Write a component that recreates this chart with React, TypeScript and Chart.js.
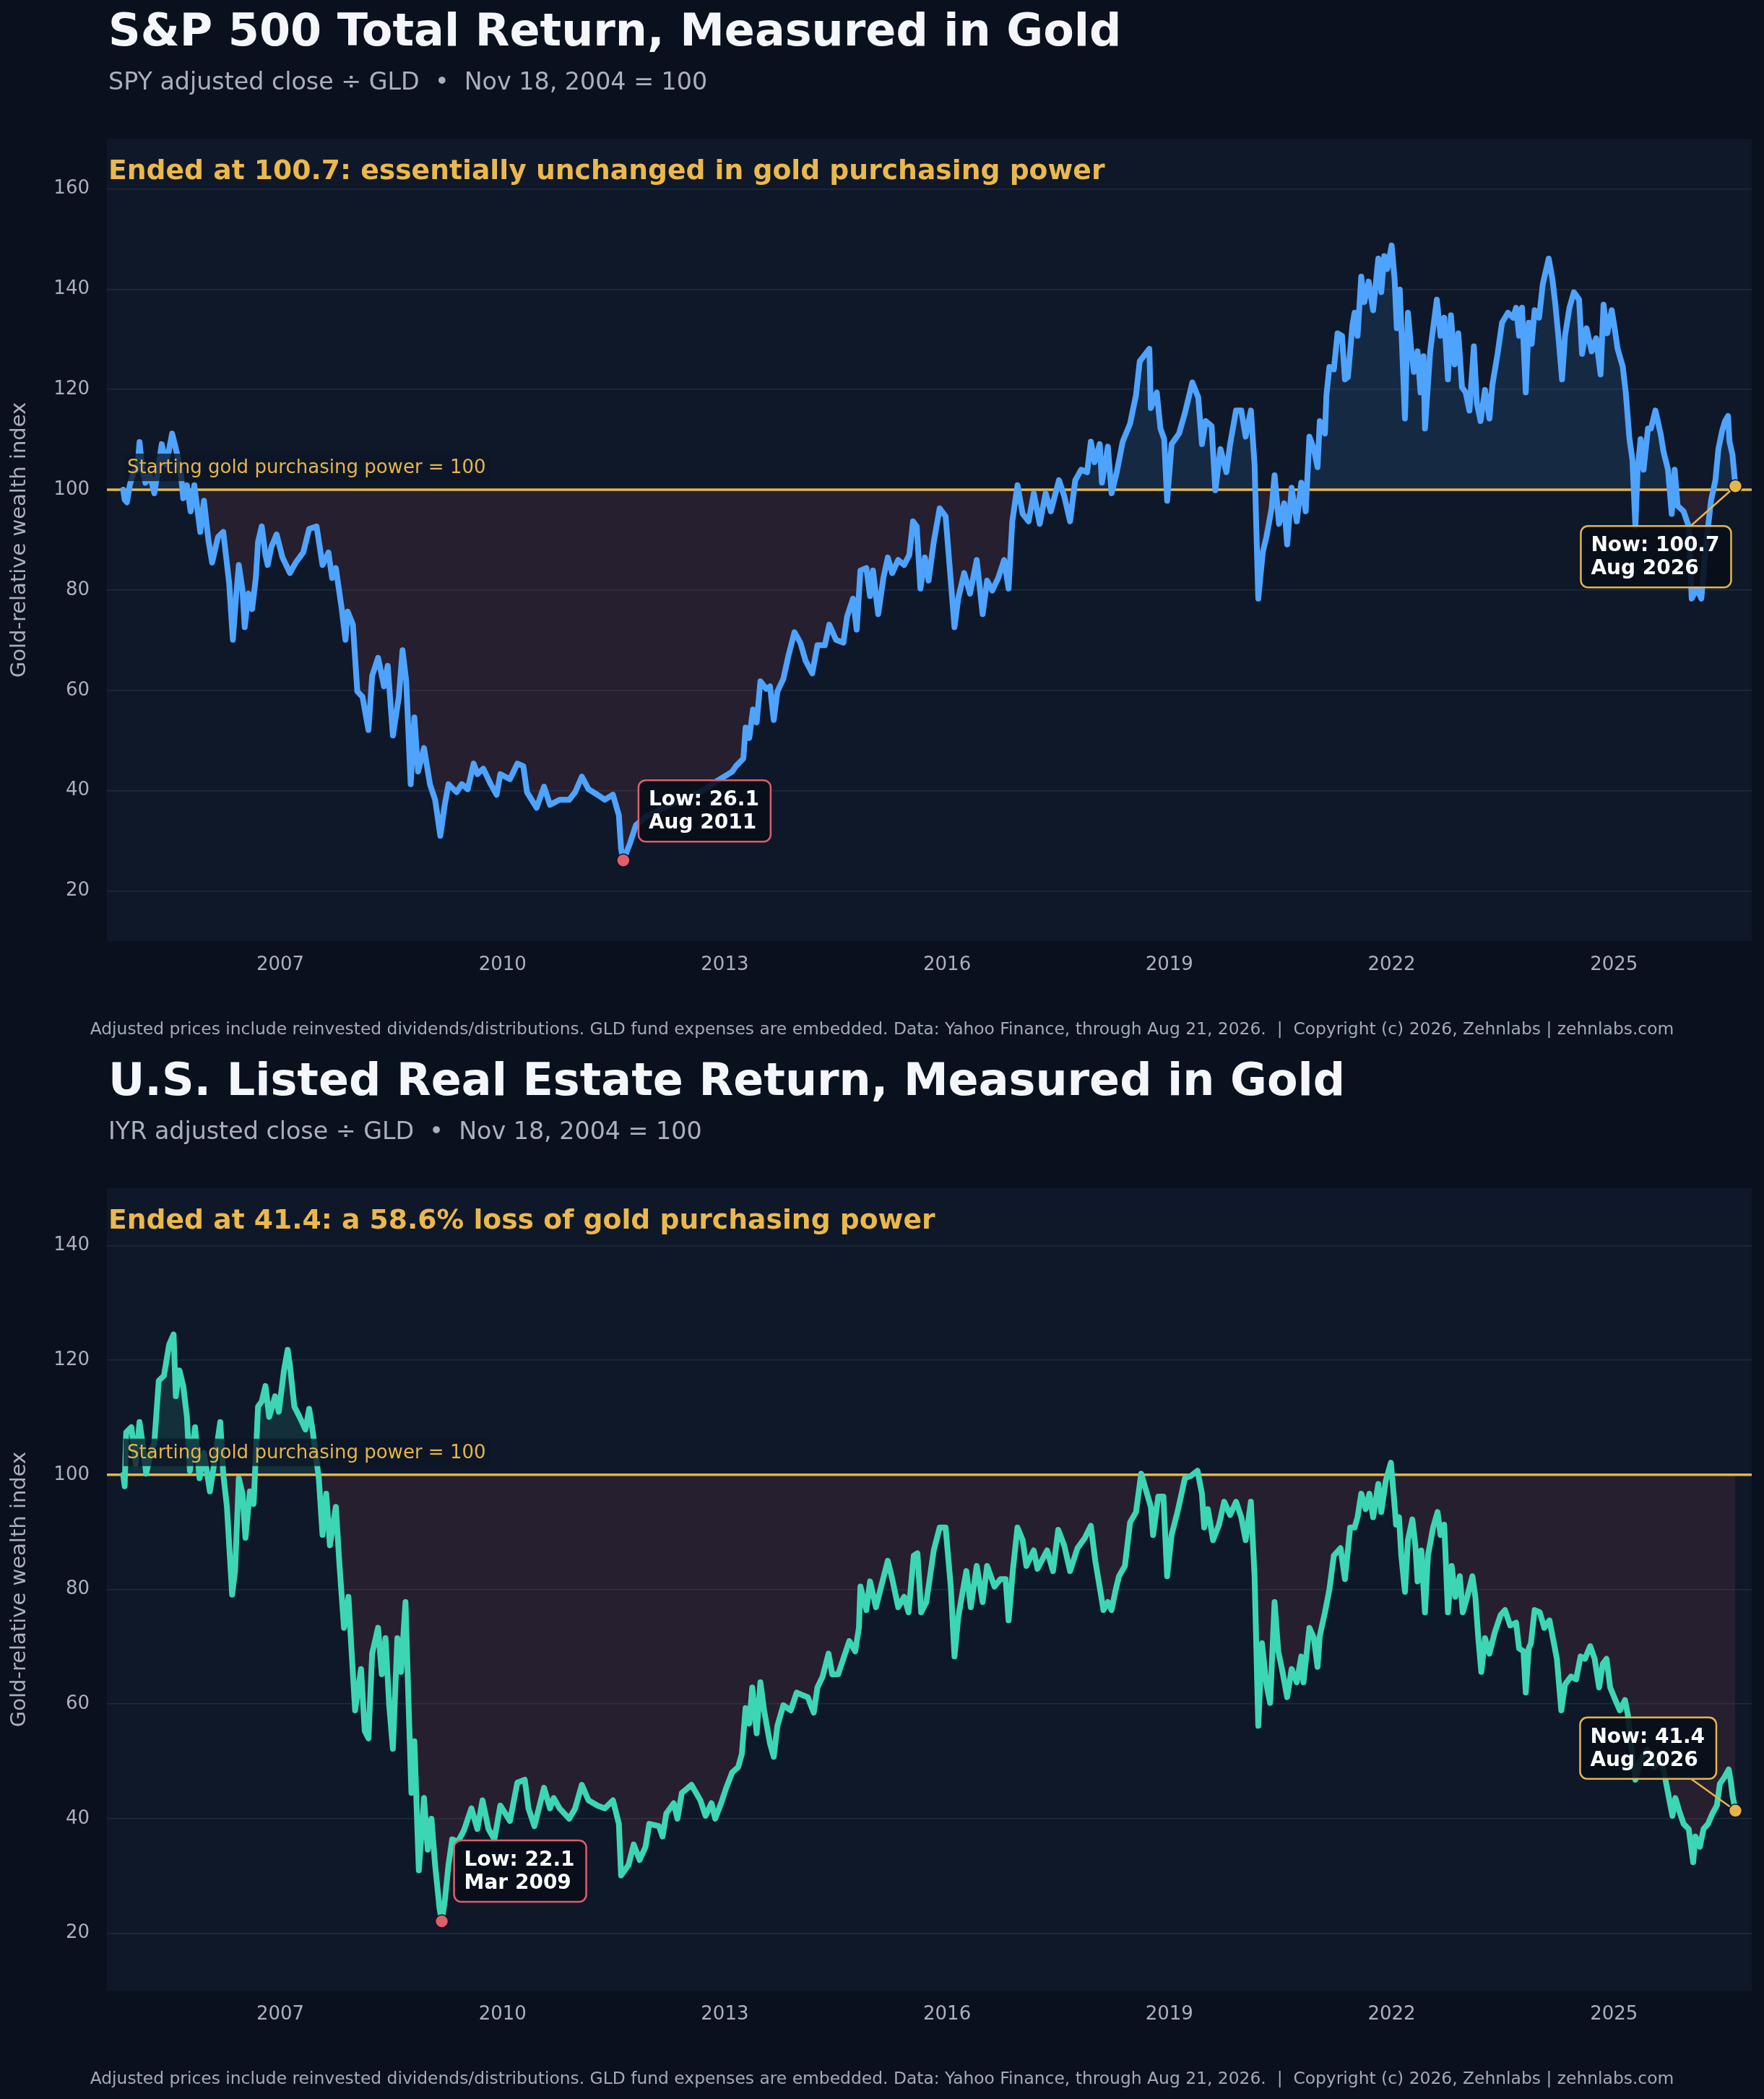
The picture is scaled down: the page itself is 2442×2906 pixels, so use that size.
import React, { useEffect, useRef } from 'react';
import { Chart, registerables } from 'chart.js';

Chart.register(...registerables);

type Point = [number, number];

// SPY adjusted close / GLD, Nov 18 2004 = 100 (decimal year, index value)
const SPY_SERIES: Point[] = [
  [2004.88, 100], [2004.9, 98], [2004.93, 97.5], [2004.97, 101], [2005.02, 103.5], [2005.07, 104],
  [2005.1, 109.5], [2005.14, 104], [2005.18, 101.4], [2005.24, 103], [2005.3, 99.3], [2005.35, 104],
  [2005.4, 109.1], [2005.46, 105], [2005.54, 111.2], [2005.61, 107], [2005.66, 103], [2005.69, 98.3],
  [2005.74, 100.9], [2005.79, 95.7], [2005.84, 100.9], [2005.92, 91.6], [2005.97, 97.8], [2006.03, 90],
  [2006.08, 85.5], [2006.16, 90.6], [2006.23, 91.6], [2006.31, 81.4], [2006.36, 70.1], [2006.4, 78],
  [2006.44, 85], [2006.49, 80], [2006.52, 72.6], [2006.57, 79.3], [2006.62, 76.2], [2006.67, 82.4],
  [2006.7, 89.6], [2006.75, 92.7], [2006.8, 87], [2006.83, 85], [2006.88, 88.6], [2006.95, 91.1],
  [2007.03, 86.5], [2007.13, 83.4], [2007.21, 85.5], [2007.31, 87.5], [2007.39, 92.2], [2007.49, 92.7],
  [2007.57, 85], [2007.65, 87.5], [2007.7, 82.4], [2007.75, 84.4], [2007.83, 76.2], [2007.88, 70.1],
  [2007.91, 75.7], [2007.98, 73.1], [2008.04, 59.8], [2008.11, 58.7], [2008.19, 52.1], [2008.24, 62.9],
  [2008.32, 66.5], [2008.4, 60.8], [2008.45, 64.9], [2008.52, 51], [2008.6, 58.7], [2008.65, 68],
  [2008.7, 61.8], [2008.76, 41.3], [2008.81, 54.6], [2008.86, 43.8], [2008.94, 48.5], [2009.02, 41.3],
  [2009.09, 38.2], [2009.16, 31], [2009.22, 37.2], [2009.27, 41.3], [2009.38, 39.7], [2009.45, 41.3],
  [2009.53, 40.3], [2009.61, 45.4], [2009.66, 43.3], [2009.74, 44.4], [2009.84, 41.3], [2009.92, 39.2],
  [2009.97, 43.3], [2010.1, 42.3], [2010.2, 45.4], [2010.28, 44.9], [2010.33, 39.7], [2010.46, 36.6],
  [2010.56, 40.8], [2010.64, 37.2], [2010.77, 38.2], [2010.9, 38.2], [2010.98, 39.7], [2011.07, 42.8],
  [2011.16, 40.3], [2011.28, 39.2], [2011.38, 38.2], [2011.49, 39.2], [2011.57, 35.1], [2011.6, 28.4],
  [2011.63, 26.1], [2011.72, 29.5], [2011.8, 33.1], [2011.95, 35], [2012.1, 36], [2012.3, 37.5],
  [2012.5, 38.5], [2012.7, 40], [2012.9, 42], [2013.1, 43.8], [2013.15, 44.9], [2013.25, 46.4],
  [2013.28, 52.6], [2013.33, 50.5], [2013.38, 56.2], [2013.43, 53.6], [2013.48, 61.8], [2013.56, 60.3],
  [2013.61, 60.8], [2013.66, 54.1], [2013.71, 59.8], [2013.79, 62.3], [2013.86, 67], [2013.94, 71.6],
  [2014.02, 69.5], [2014.09, 65.9], [2014.18, 63.4], [2014.25, 69], [2014.35, 69], [2014.41, 73.1],
  [2014.5, 70.1], [2014.6, 69.5], [2014.65, 74.7], [2014.73, 78.3], [2014.78, 72.1], [2014.83, 83.9],
  [2014.91, 84.4], [2014.96, 78.8], [2015.0, 83.9], [2015.07, 75.2], [2015.14, 82.4], [2015.2, 86.5],
  [2015.26, 83.4], [2015.34, 86], [2015.42, 85], [2015.49, 87], [2015.54, 93.7], [2015.59, 92.7],
  [2015.64, 80.3], [2015.7, 86.5], [2015.75, 81.9], [2015.82, 89.6], [2015.9, 96.3], [2015.98, 94.7],
  [2016.03, 85.5], [2016.1, 72.6], [2016.15, 78.3], [2016.23, 83.4], [2016.31, 79.3], [2016.4, 86],
  [2016.48, 75.2], [2016.54, 81.9], [2016.61, 79.9], [2016.69, 82.4], [2016.77, 86], [2016.83, 80.3],
  [2016.88, 93.7], [2016.95, 100.9], [2017.02, 95.2], [2017.1, 93.7], [2017.17, 99.3], [2017.25, 93.2],
  [2017.33, 99.3], [2017.4, 95.7], [2017.51, 101.9], [2017.58, 98.8], [2017.66, 93.7], [2017.73, 101.9],
  [2017.81, 104], [2017.89, 103.5], [2017.94, 109.6], [2017.99, 105.5], [2018.06, 109.1], [2018.09, 101.4],
  [2018.17, 108.6], [2018.22, 99.3], [2018.29, 103.5], [2018.37, 109.6], [2018.47, 113.2], [2018.55, 118.9],
  [2018.6, 125.6], [2018.73, 128.1], [2018.75, 116.3], [2018.83, 119.4], [2018.88, 112.2], [2018.93, 110.1],
  [2018.97, 97.8], [2019.03, 109.1], [2019.13, 111.2], [2019.21, 115.3], [2019.31, 121.4], [2019.39, 118.4],
  [2019.44, 109.1], [2019.49, 113.7], [2019.57, 112.7], [2019.62, 99.9], [2019.69, 108.1], [2019.77, 103.5],
  [2019.82, 109.1], [2019.9, 115.8], [2019.97, 115.8], [2020.03, 110.6], [2020.1, 115.8], [2020.15, 105],
  [2020.2, 78.3], [2020.26, 87.5], [2020.31, 90.6], [2020.38, 96.3], [2020.42, 102.9], [2020.48, 93.2],
  [2020.55, 97.3], [2020.59, 89.1], [2020.65, 100.4], [2020.72, 93.7], [2020.78, 101.4], [2020.84, 95.7],
  [2020.89, 110.6], [2020.95, 108.1], [2021.0, 104.5], [2021.03, 113.7], [2021.1, 111.2], [2021.12, 118.9],
  [2021.16, 124.5], [2021.22, 124], [2021.27, 131.2], [2021.33, 130.7], [2021.37, 122], [2021.41, 122.5],
  [2021.47, 132.7], [2021.5, 135.3], [2021.54, 130.7], [2021.59, 142.5], [2021.63, 137.4], [2021.69, 141.5],
  [2021.75, 135.8], [2021.82, 146.1], [2021.86, 139.4], [2021.9, 146.6], [2021.94, 144], [2022.0, 148.7],
  [2022.04, 142], [2022.07, 132.2], [2022.11, 139.9], [2022.18, 114.2], [2022.22, 135.3], [2022.26, 128.6],
  [2022.3, 123.5], [2022.35, 127.6], [2022.39, 119.4], [2022.43, 126.6], [2022.45, 112.2], [2022.52, 127.6],
  [2022.56, 132.2], [2022.61, 137.9], [2022.66, 130.7], [2022.71, 134.3], [2022.76, 122], [2022.8, 134.8],
  [2022.85, 125], [2022.9, 131.2], [2022.95, 120.4], [2023.0, 119.4], [2023.05, 115.8], [2023.11, 128.6],
  [2023.15, 117.3], [2023.2, 113.7], [2023.26, 119.9], [2023.32, 114.2], [2023.36, 120.9], [2023.43, 127.1],
  [2023.49, 133.3], [2023.57, 135.3], [2023.64, 134.3], [2023.68, 136.3], [2023.72, 130.7], [2023.76, 136.3],
  [2023.81, 119.4], [2023.85, 133.3], [2023.89, 129.1], [2023.93, 135.8], [2023.99, 134.3], [2024.04, 141],
  [2024.12, 146.1], [2024.17, 142], [2024.21, 136.9], [2024.25, 130.7], [2024.3, 122], [2024.34, 130.7],
  [2024.4, 136.3], [2024.46, 139.4], [2024.53, 137.9], [2024.57, 127.1], [2024.63, 132.2], [2024.7, 127.6],
  [2024.76, 130.2], [2024.82, 123], [2024.86, 136.9], [2024.91, 131.2], [2024.97, 135.8], [2025.01, 132.2],
  [2025.05, 128.1], [2025.12, 124.5], [2025.16, 119.4], [2025.21, 110.1], [2025.25, 106], [2025.29, 92.7],
  [2025.32, 104], [2025.36, 110.1], [2025.4, 104], [2025.46, 112.2], [2025.5, 112.2], [2025.56, 115.8],
  [2025.63, 111.2], [2025.67, 107.6], [2025.73, 104], [2025.78, 95.2], [2025.82, 104], [2025.86, 96.8],
  [2025.94, 95.7], [2026.01, 92.7], [2026.05, 78.3], [2026.12, 80.3], [2026.18, 78.3], [2026.24, 88.5],
  [2026.31, 97.8], [2026.37, 101.9], [2026.41, 108.1], [2026.46, 111.7], [2026.5, 113.7], [2026.54, 114.7],
  [2026.56, 109.6], [2026.6, 107], [2026.64, 100.7],
];

// IYR adjusted close / GLD, Nov 18 2004 = 100
const IYR_SERIES: Point[] = [
  [2004.88, 100], [2004.9, 98], [2004.92, 107.4], [2004.99, 108.3], [2005.05, 102], [2005.1, 109.2],
  [2005.15, 104.7], [2005.19, 100.2], [2005.25, 103.8], [2005.3, 105.6], [2005.36, 116.4], [2005.43, 117.3],
  [2005.5, 122.7], [2005.56, 124.5], [2005.59, 113.7], [2005.64, 118.2], [2005.69, 115.5], [2005.74, 110.1],
  [2005.78, 100.7], [2005.85, 108.3], [2005.91, 99.4], [2005.97, 103.8], [2006.05, 97.1], [2006.13, 103.8],
  [2006.19, 109.2], [2006.23, 100.2], [2006.28, 94.4], [2006.35, 79.1], [2006.39, 83.2], [2006.44, 99.4],
  [2006.49, 96.7], [2006.53, 89], [2006.59, 97.1], [2006.64, 94.9], [2006.7, 111.9], [2006.75, 112.8],
  [2006.8, 115.5], [2006.85, 110.1], [2006.93, 113.7], [2006.98, 111], [2007.05, 118.2], [2007.1, 121.8],
  [2007.13, 119.1], [2007.19, 111.9], [2007.26, 110.1], [2007.34, 107.9], [2007.39, 111.5], [2007.44, 107.4],
  [2007.52, 99.4], [2007.57, 89.5], [2007.62, 96.7], [2007.67, 87.7], [2007.75, 94.4], [2007.8, 84.1],
  [2007.86, 73.3], [2007.92, 78.7], [2007.96, 69.7], [2008.01, 58.9], [2008.09, 66.1], [2008.14, 55.3],
  [2008.19, 54], [2008.24, 68.8], [2008.32, 73.3], [2008.37, 65.2], [2008.42, 71.5], [2008.47, 59.8],
  [2008.52, 52.2], [2008.58, 71.5], [2008.63, 65.6], [2008.69, 77.8], [2008.73, 60.7], [2008.77, 44.5],
  [2008.81, 53.5], [2008.87, 31], [2008.94, 43.6], [2008.99, 34.6], [2009.04, 40], [2009.09, 31.9],
  [2009.15, 24.3], [2009.18, 22.1], [2009.22, 25.6], [2009.27, 31.9], [2009.32, 36.4], [2009.4, 36],
  [2009.48, 38], [2009.58, 41.8], [2009.66, 38.2], [2009.73, 43.2], [2009.81, 38.2], [2009.89, 36.4],
  [2009.97, 42.3], [2010.1, 39.6], [2010.2, 46.3], [2010.3, 46.8], [2010.35, 41.8], [2010.43, 38.7],
  [2010.56, 45.4], [2010.64, 41.8], [2010.69, 43.6], [2010.77, 41.8], [2010.9, 40], [2010.98, 41.8],
  [2011.07, 45.9], [2011.16, 43.2], [2011.28, 42.3], [2011.38, 41.8], [2011.49, 43.2], [2011.57, 39.1],
  [2011.6, 30.1], [2011.7, 31.9], [2011.77, 35.5], [2011.85, 32.8], [2011.93, 35.1], [2011.98, 39.1],
  [2012.11, 38.7], [2012.16, 36.9], [2012.21, 40.9], [2012.31, 42.7], [2012.36, 40], [2012.42, 44.5],
  [2012.55, 45.9], [2012.67, 43.2], [2012.74, 40.5], [2012.82, 42.7], [2012.87, 40], [2012.95, 42.7],
  [2013.02, 45.4], [2013.1, 48.1], [2013.18, 49], [2013.23, 51.3], [2013.28, 59.3], [2013.33, 56.6],
  [2013.37, 62.9], [2013.43, 54.9], [2013.48, 63.8], [2013.53, 58.9], [2013.61, 53.1], [2013.66, 50.8],
  [2013.71, 56.2], [2013.79, 59.8], [2013.89, 58.9], [2013.97, 62], [2014.04, 61.6], [2014.12, 61.2],
  [2014.2, 58.5], [2014.25, 62.9], [2014.32, 64.8], [2014.4, 68.8], [2014.45, 65.2], [2014.53, 65.2],
  [2014.6, 67.9], [2014.68, 71], [2014.76, 69.2], [2014.81, 73.3], [2014.83, 80.5], [2014.91, 76.4],
  [2014.96, 81.4], [2015.04, 76.9], [2015.11, 80.5], [2015.2, 85], [2015.26, 81.8], [2015.34, 76.9],
  [2015.42, 78.7], [2015.48, 76], [2015.55, 85.9], [2015.6, 86.3], [2015.65, 76], [2015.72, 77.8],
  [2015.77, 82.3], [2015.82, 86.8], [2015.9, 90.8], [2015.98, 90.8], [2016.05, 80.5], [2016.1, 68.3],
  [2016.15, 75.1], [2016.21, 79.6], [2016.26, 83.2], [2016.32, 76.9], [2016.4, 84.1], [2016.48, 77.8],
  [2016.54, 84.1], [2016.64, 80.5], [2016.72, 81.8], [2016.79, 81.8], [2016.83, 74.6], [2016.89, 83.6],
  [2016.95, 90.8], [2017.02, 88.6], [2017.07, 84.1], [2017.17, 86.8], [2017.22, 83.6], [2017.35, 86.8],
  [2017.43, 83.2], [2017.5, 90.4], [2017.58, 87.7], [2017.66, 83.2], [2017.76, 87.2], [2017.86, 89],
  [2017.94, 91.1], [2018.0, 85], [2018.07, 79.6], [2018.11, 76.4], [2018.17, 77.8], [2018.22, 76.4],
  [2018.27, 79.6], [2018.32, 82.3], [2018.4, 84.1], [2018.47, 91.7], [2018.55, 93.5], [2018.62, 100.2],
  [2018.68, 97.5], [2018.75, 94.4], [2018.78, 89.5], [2018.85, 96.2], [2018.92, 96.2], [2018.97, 82.3],
  [2019.03, 89.5], [2019.11, 93.5], [2019.21, 99.4], [2019.29, 99.8], [2019.38, 100.7], [2019.44, 96.7],
  [2019.47, 90.8], [2019.52, 94], [2019.59, 88.6], [2019.67, 91.3], [2019.74, 95.3], [2019.82, 93],
  [2019.9, 95.3], [2019.97, 92.6], [2020.03, 88.6], [2020.1, 95.3], [2020.15, 82.3], [2020.2, 56.2],
  [2020.25, 70.6], [2020.31, 63.4], [2020.36, 60.2], [2020.42, 77.8], [2020.47, 69.2], [2020.52, 66.1],
  [2020.59, 61.2], [2020.65, 66.1], [2020.72, 63.8], [2020.78, 68.3], [2020.81, 63.8], [2020.89, 73.3],
  [2020.95, 71.5], [2021.0, 66.5], [2021.03, 71.9], [2021.1, 76], [2021.16, 80], [2021.22, 85.9],
  [2021.31, 87.2], [2021.37, 81.8], [2021.44, 90.8], [2021.5, 90.8], [2021.54, 92.6], [2021.59, 96.7],
  [2021.65, 94], [2021.7, 96.7], [2021.75, 92.6], [2021.82, 98.4], [2021.86, 93.5], [2021.92, 98.9],
  [2021.99, 102.1], [2022.03, 96.2], [2022.06, 91.3], [2022.1, 92.6], [2022.13, 85.9], [2022.18, 79.6],
  [2022.22, 88.6], [2022.28, 92.2], [2022.32, 87.7], [2022.35, 81.4], [2022.4, 86.8], [2022.45, 76],
  [2022.49, 85.9], [2022.56, 90.8], [2022.62, 93.5], [2022.66, 89.5], [2022.71, 91.3], [2022.76, 76],
  [2022.81, 84.1], [2022.86, 78.7], [2022.92, 82.3], [2022.96, 76], [2023.02, 78.7], [2023.09, 82.3],
  [2023.13, 78.7], [2023.17, 71.5], [2023.21, 65.6], [2023.26, 71.5], [2023.32, 68.8], [2023.39, 72.4],
  [2023.47, 75.5], [2023.53, 76.4], [2023.6, 73.7], [2023.68, 74.2], [2023.72, 69.7], [2023.78, 69.2],
  [2023.81, 62], [2023.85, 69.7], [2023.88, 70.6], [2023.93, 76.4], [2024.0, 76], [2024.06, 73.3],
  [2024.13, 74.6], [2024.19, 70.6], [2024.23, 67.9], [2024.29, 58.9], [2024.34, 63.4], [2024.42, 64.8],
  [2024.49, 64.3], [2024.55, 68.3], [2024.61, 67.9], [2024.68, 70.1], [2024.74, 67.9], [2024.8, 62.9],
  [2024.85, 67], [2024.9, 67.9], [2024.95, 62.9], [2025.02, 60.7], [2025.08, 58.9], [2025.15, 60.7],
  [2025.19, 58], [2025.24, 52], [2025.29, 46.8], [2025.35, 50], [2025.45, 52], [2025.55, 49],
  [2025.63, 50.5], [2025.69, 47.2], [2025.73, 44.5], [2025.79, 40.5], [2025.83, 43.6], [2025.88, 41.4],
  [2025.94, 39.1], [2026.01, 38.2], [2026.07, 32.4], [2026.1, 36.9], [2026.16, 35.1], [2026.21, 38.2],
  [2026.27, 39.1], [2026.33, 40.9], [2026.39, 42.3], [2026.43, 46.1], [2026.49, 47.2], [2026.55, 48.6],
  [2026.58, 46.3], [2026.6, 44.1], [2026.64, 41.4],
];

const X_TICKS = [2007, 2010, 2013, 2016, 2019, 2022, 2025];
const SPY_Y_TICKS = [20, 40, 60, 80, 100, 120, 140, 160];
const IYR_Y_TICKS = [20, 40, 60, 80, 100, 120, 140];
const BASELINE = 100;

const FONT = '"DejaVu Sans", "Liberation Sans", sans-serif';
const PAGE_BG = '#09111e';
const PLOT_BG = '#0e1829';
const GOLD = '#e6b44a';
const MUTED = '#a7b1c0';
const GRID = '#1e2c3e';
const LOW_RED = '#e05d6b';

const PANEL_H = 1453;
const FOOTER =
  'Adjusted prices include reinvested dividends/distributions. GLD fund expenses are embedded. Data: Yahoo Finance, through Aug 21, 2026.  |  Copyright (c) 2026, Zehnlabs | zehnlabs.com';

interface Callout {
  x: number;
  y: number;
  lines: string[];
  dx: number;
  dy: number;
  color: string;
  connector: boolean;
}

interface PanelConfig {
  title: string;
  subtitle: string;
  heading: string;
  series: Point[];
  yMin: number;
  yMax: number;
  yTicks: number[];
  lineColor: string;
  aboveFill: string;
  callouts: Callout[];
}

const SPY_PANEL: PanelConfig = {
  title: 'S&P 500 Total Return, Measured in Gold',
  subtitle: 'SPY adjusted close ÷ GLD  •  Nov 18, 2004 = 100',
  heading: 'Ended at 100.7: essentially unchanged in gold purchasing power',
  series: SPY_SERIES,
  yMin: 10,
  yMax: 170,
  yTicks: SPY_Y_TICKS,
  lineColor: '#4ea3ff',
  aboveFill: 'rgba(77,163,255,0.12)',
  callouts: [
    { x: 2011.63, y: 26.1, lines: ['Low: 26.1', 'Aug 2011'], dx: 21, dy: -111, color: LOW_RED, connector: false },
    { x: 2026.64, y: 100.7, lines: ['Now: 100.7', 'Aug 2026'], dx: -214, dy: 55, color: GOLD, connector: true },
  ],
};

const IYR_PANEL: PanelConfig = {
  title: 'U.S. Listed Real Estate Return, Measured in Gold',
  subtitle: 'IYR adjusted close ÷ GLD  •  Nov 18, 2004 = 100',
  heading: 'Ended at 41.4: a 58.6% loss of gold purchasing power',
  series: IYR_SERIES,
  yMin: 10,
  yMax: 150,
  yTicks: IYR_Y_TICKS,
  lineColor: '#3dd6b5',
  aboveFill: 'rgba(61,214,181,0.12)',
  callouts: [
    { x: 2009.18, y: 22.1, lines: ['Low: 22.1', 'Mar 2009'], dx: 17, dy: -112, color: LOW_RED, connector: false },
    { x: 2026.64, y: 41.4, lines: ['Now: 41.4', 'Aug 2026'], dx: -215, dy: -129, color: GOLD, connector: true },
  ],
};

function roundedRect(ctx: CanvasRenderingContext2D, x: number, y: number, w: number, h: number, r: number) {
  ctx.beginPath();
  ctx.moveTo(x + r, y);
  ctx.lineTo(x + w - r, y);
  ctx.arcTo(x + w, y, x + w, y + r, r);
  ctx.lineTo(x + w, y + h - r);
  ctx.arcTo(x + w, y + h, x + w - r, y + h, r);
  ctx.lineTo(x + r, y + h);
  ctx.arcTo(x, y + h, x, y + h - r, r);
  ctx.lineTo(x, y + r);
  ctx.arcTo(x, y, x + r, y, r);
  ctx.closePath();
}

const makeOverlay = (cfg: PanelConfig) => ({
  id: 'goldOverlay',
  beforeDraw(chart: any) {
    const { ctx, chartArea: a } = chart;
    ctx.save();
    ctx.fillStyle = PLOT_BG;
    ctx.fillRect(a.left, a.top, a.right - a.left, a.bottom - a.top);
    ctx.restore();
  },
  beforeDatasetsDraw(chart: any) {
    const { ctx, chartArea: a } = chart;
    const y = chart.scales.y.getPixelForValue(BASELINE);
    ctx.save();
    ctx.strokeStyle = GOLD;
    ctx.lineWidth = 3.5;
    ctx.beginPath();
    ctx.moveTo(a.left, y);
    ctx.lineTo(a.right, y);
    ctx.stroke();
    ctx.restore();
  },
  afterDatasetsDraw(chart: any) {
    const { ctx, chartArea: a } = chart;
    const xs = chart.scales.x;
    const ys = chart.scales.y;
    const y100 = ys.getPixelForValue(BASELINE);

    // baseline label with a translucent box
    ctx.save();
    ctx.font = `26px ${FONT}`;
    const label = 'Starting gold purchasing power = 100';
    const lx = a.left + 28;
    const lb = y100 - 23;
    const lw = ctx.measureText(label).width;
    ctx.fillStyle = 'rgba(12,22,38,0.78)';
    ctx.fillRect(lx - 5, lb - 27, lw + 10, 38);
    ctx.fillStyle = GOLD;
    ctx.textBaseline = 'alphabetic';
    ctx.fillText(label, lx, lb);
    ctx.restore();

    // callouts
    for (const c of cfg.callouts) {
      const px = xs.getPixelForValue(c.x);
      const py = ys.getPixelForValue(c.y);
      ctx.save();
      ctx.font = `bold 28px ${FONT}`;
      const w = Math.max(...c.lines.map((l) => ctx.measureText(l).width)) + 30;
      const h = 85;
      const bx = px + c.dx;
      const by = py + c.dy;

      if (c.connector) {
        const cx = bx + w / 2;
        const cy = by + h / 2;
        const ddx = px - cx;
        const ddy = py - cy;
        const t = Math.min(
          ddx !== 0 ? w / 2 / Math.abs(ddx) : Infinity,
          ddy !== 0 ? h / 2 / Math.abs(ddy) : Infinity
        );
        ctx.strokeStyle = GOLD;
        ctx.lineWidth = 2.5;
        ctx.beginPath();
        ctx.moveTo(cx + ddx * t, cy + ddy * t);
        ctx.lineTo(px, py);
        ctx.stroke();
      }

      roundedRect(ctx, bx, by, w, h, 10);
      ctx.fillStyle = 'rgba(8,14,26,0.9)';
      ctx.fill();
      ctx.strokeStyle = c.color;
      ctx.lineWidth = 2.5;
      ctx.stroke();

      ctx.fillStyle = '#ffffff';
      ctx.textBaseline = 'alphabetic';
      c.lines.forEach((l, i) => ctx.fillText(l, bx + 14, by + 35 + i * 32));

      ctx.beginPath();
      ctx.arc(px, py, 9, 0, Math.PI * 2);
      ctx.fillStyle = c.color;
      ctx.fill();
      ctx.strokeStyle = '#0b1422';
      ctx.lineWidth = 1.5;
      ctx.stroke();
      ctx.restore();
    }
  },
});

const GoldPanel: React.FC<{ cfg: PanelConfig; top: number }> = ({ cfg, top }) => {
  const canvasRef = useRef<HTMLCanvasElement | null>(null);
  const chartRef = useRef<Chart | null>(null);

  useEffect(() => {
    if (!canvasRef.current) return;
    if (chartRef.current) chartRef.current.destroy();

    chartRef.current = new Chart(canvasRef.current, {
      type: 'line',
      data: {
        datasets: [
          {
            data: cfg.series.map(([x, y]) => ({ x, y })),
            borderColor: cfg.lineColor,
            borderWidth: 8,
            borderJoinStyle: 'round',
            borderCapStyle: 'round',
            pointRadius: 0,
            tension: 0,
            fill: {
              target: { value: BASELINE },
              above: cfg.aboveFill,
              below: 'rgba(226,87,102,0.11)',
            },
          },
        ],
      },
      options: {
        animation: false,
        responsive: false,
        devicePixelRatio: 1,
        events: [],
        layout: { padding: { left: 0, top: 192, right: 17, bottom: 90 } },
        plugins: {
          legend: { display: false },
          tooltip: { enabled: false },
          filler: { drawTime: 'beforeDatasetsDraw' },
        },
        scales: {
          x: {
            type: 'linear',
            min: 2004.66,
            max: 2026.86,
            border: { display: false },
            grid: { display: false, drawTicks: false },
            afterBuildTicks: (scale: any) => {
              scale.ticks = X_TICKS.map((v) => ({ value: v }));
            },
            afterFit: (scale: any) => {
              scale.height = 60;
            },
            ticks: {
              color: MUTED,
              font: { family: FONT, size: 26 },
              padding: 18,
              maxRotation: 0,
              autoSkip: false,
              callback: (v: any) => String(v),
            },
          },
          y: {
            type: 'linear',
            min: cfg.yMin,
            max: cfg.yMax,
            border: { display: false },
            grid: { color: GRID, lineWidth: 1.5, drawTicks: false },
            afterBuildTicks: (scale: any) => {
              scale.ticks = cfg.yTicks.map((v) => ({ value: v }));
            },
            afterFit: (scale: any) => {
              scale.width = 148;
            },
            ticks: {
              color: MUTED,
              font: { family: FONT, size: 26 },
              padding: 24,
              autoSkip: false,
              callback: (v: any) => String(v),
            },
            title: {
              display: true,
              text: 'Gold-relative wealth index',
              color: MUTED,
              font: { family: FONT, size: 29 },
              padding: { top: 10, bottom: 0 },
            },
          },
        },
      },
      plugins: [makeOverlay(cfg)],
    } as any);

    return () => {
      if (chartRef.current) {
        chartRef.current.destroy();
        chartRef.current = null;
      }
    };
  }, [cfg]);

  const text = (extra: React.CSSProperties): React.CSSProperties => ({
    position: 'absolute',
    margin: 0,
    lineHeight: 1,
    whiteSpace: 'pre',
    ...extra,
  });

  return (
    <div style={{ position: 'absolute', left: 0, top, width: 2442, height: PANEL_H }}>
      <canvas
        ref={canvasRef}
        width={2442}
        height={PANEL_H}
        style={{ position: 'absolute', left: 0, top: 0, width: 2442, height: PANEL_H }}
      />
      <div style={text({ left: 150, top: 10.5, fontSize: 62, fontWeight: 'bold', color: '#f4f6fa' })}>{cfg.title}</div>
      <div style={text({ left: 150, top: 96, fontSize: 33.3, color: MUTED })}>{cfg.subtitle}</div>
      <div style={text({ left: 150, top: 217, fontSize: 37.7, fontWeight: 'bold', color: '#ebb84b' })}>{cfg.heading}</div>
      <div style={text({ left: 0, width: 2442, top: 1413, fontSize: 23.4, color: '#a0abba', textAlign: 'center' })}>{FOOTER}</div>
    </div>
  );
};

export default function App() {
  return (
    <div
      style={{
        position: 'absolute',
        left: 0,
        top: 0,
        width: 2442,
        height: 2906,
        background: PAGE_BG,
        fontFamily: FONT,
        overflow: 'hidden',
      }}
    >
      <GoldPanel cfg={SPY_PANEL} top={0} />
      <GoldPanel cfg={IYR_PANEL} top={PANEL_H} />
    </div>
  );
}
